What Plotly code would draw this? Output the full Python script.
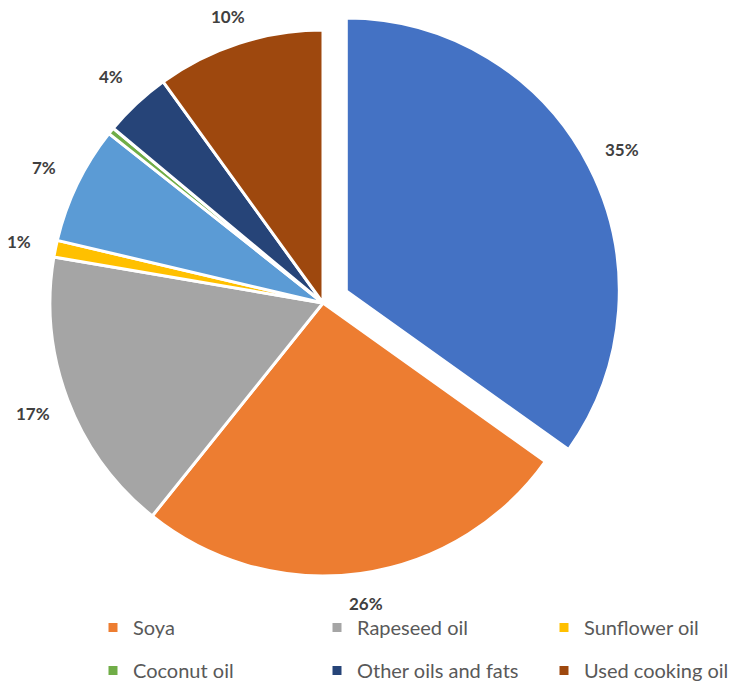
import numpy as np
import plotly.graph_objects as go

# Feedstock shares (%)
categories = ["Palm oil", "Soya", "Rapeseed oil", "Sunflower oil", "Light oils",
              "Coconut oil", "Other oils and fats", "Used cooking oil"]
shares = [35, 26, 17, 1, 7, 0.4, 4, 10]
colors = ["#4472C4", "#ED7D31", "#A5A5A5", "#FFC000", "#5B9BD5",
          "#70AD47", "#264478", "#9E480E"]
pulls = [0.096, 0, 0, 0, 0, 0, 0, 0]

# Legend key, one column per list
legend_cols = [
    ["Soya", "Coconut oil"],
    ["Rapeseed oil", "Other oils and fats"],
    ["Sunflower oil", "Used cooking oil"],
]

# Page and pie geometry (pixels)
W, H = 738, 686
CX, CY, R = 323, 303, 273
LABEL_GAP = 37          # distance of a value label beyond the rim
LABEL_TOP = 17          # labels stay between these two lines
LABEL_BOTTOM = 603
LEGEND_COL_X = [93, 317, 544]
LEGEND_TOP = 608

max_pull = max(pulls)
outer = R * (1 + max_pull)
domain_x = [(CX - outer) / W, (CX + outer) / W]
domain_y = [1 - (CY + outer) / H, 1 - (CY - outer) / H]

fig = go.Figure()
fig.add_trace(go.Pie(
    labels=categories,
    values=shares,
    sort=False,
    direction="clockwise",
    rotation=0,
    pull=pulls,
    marker=dict(colors=colors, line=dict(color="white", width=3)),
    textinfo="none",
    automargin=False,
    showlegend=False,
    hoverinfo="label+percent",
    domain=dict(x=domain_x, y=domain_y),
))

# Value labels just outside each slice, at the slice's mid angle
vals = np.array(shares, dtype=float)
mid_frac = (np.cumsum(vals) - vals / 2) / vals.sum()
theta = 2 * np.pi * mid_frac
for v, th, p in zip(shares, theta, pulls):
    if v < 1:
        continue
    ux, uy = np.sin(th), -np.cos(th)
    ox, oy = CX + p * R * ux, CY + p * R * uy
    lx = ox + (R + LABEL_GAP) * ux
    ly = min(max(oy + (R + LABEL_GAP) * uy, LABEL_TOP), LABEL_BOTTOM)
    fig.add_annotation(
        x=lx / W, y=1 - ly / H, xref="paper", yref="paper",
        text=f"{v:g}%", showarrow=False,
        xanchor="center", yanchor="middle",
        font=dict(family="Lato", size=17, color="#404040", weight="bold"),
    )

color_of = dict(zip(categories, colors))
legend_layouts = {}
for i, (names, x_px) in enumerate(zip(legend_cols, LEGEND_COL_X)):
    key = "legend" if i == 0 else f"legend{i + 1}"
    for name in names:
        fig.add_trace(go.Scatter(
            x=[None], y=[None], mode="markers", name=name,
            legend=key, legendgroup=name,
            marker=dict(symbol="square", size=9, color=color_of[name]),
        ))
    legend_layouts[key] = dict(
        orientation="v",
        xanchor="left", yanchor="top",
        x=x_px / W, y=1 - LEGEND_TOP / H,
        tracegroupgap=14,
        itemwidth=30,
        font=dict(family="Lato", size=20, color="#595959"),
        bgcolor="rgba(0,0,0,0)",
    )

fig.update_layout(
    width=W, height=H,
    margin=dict(l=0, r=0, t=0, b=0, autoexpand=False),
    paper_bgcolor="white", plot_bgcolor="white",
    xaxis=dict(visible=False), yaxis=dict(visible=False),
    **legend_layouts,
)

fig.write_html("out.html")
